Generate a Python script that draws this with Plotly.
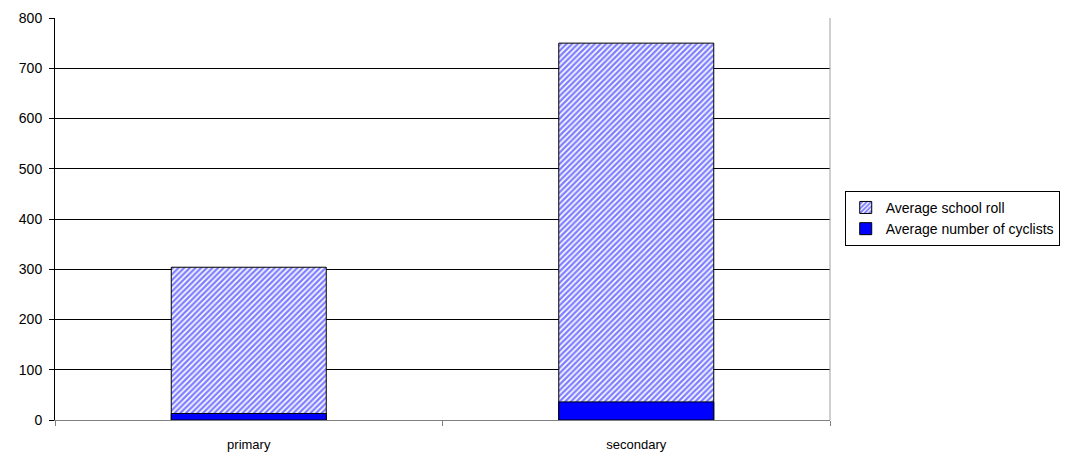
import plotly.graph_objects as go

categories = ["primary", "secondary"]
school_roll = [304, 750]
cyclists = [13, 36]
y_ticks = [0, 100, 200, 300, 400, 500, 600, 700, 800]

fig = go.Figure()
fig.add_trace(go.Bar(
    x=categories, y=school_roll, name="Average school roll",
    marker=dict(color="white", line=dict(color="black", width=1),
                pattern=dict(shape="/", fgcolor="#0000FF", bgcolor="white", size=4, solidity=0.6)),
    width=0.4,
))
fig.add_trace(go.Bar(
    x=categories, y=cyclists, name="Average number of cyclists",
    marker=dict(color="#0000FF", line=dict(color="black", width=1)),
    width=0.4,
))
fig.update_layout(
    barmode="overlay",
    width=1072, height=453,
    margin=dict(l=55, r=240, t=18, b=33),
    paper_bgcolor="white", plot_bgcolor="white",
    font=dict(family="Liberation Sans, Arial, sans-serif", size=14, color="black"),
    showlegend=True,
    legend=dict(x=1.019, y=0.57, xanchor="left", yanchor="top",
                bordercolor="black", borderwidth=1, traceorder="normal",
                font=dict(size=14), tracegroupgap=0, itemwidth=30),
    xaxis=dict(type="category", tickson="boundaries", ticks="outside", ticklen=5,
               tickcolor="#808080", showline=True, linecolor="#808080", mirror=False,
               showgrid=False, range=[-0.5, 1.5], tickfont=dict(size=13),
               ticklabelstandoff=12, automargin=False),
    yaxis=dict(range=[0, 800], tickvals=y_ticks, ticks="outside", ticklen=5,
               tickcolor="black", showline=True, linecolor="black",
               showgrid=True, gridcolor="black", gridwidth=1, zeroline=False,
               tickfont=dict(size=14), ticklabelstandoff=4, automargin=False),
)
fig.add_shape(type="line", xref="paper", yref="paper", x0=1, x1=1, y0=0, y1=1,
              line=dict(color="#a0a0a0", width=1))
fig.write_html("out.html")
